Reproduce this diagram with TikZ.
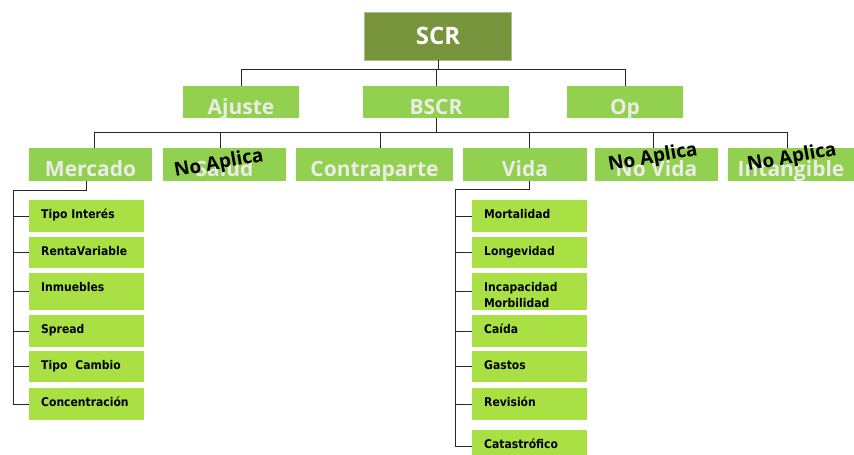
\documentclass[tikz,border=0pt]{standalone}
\usepackage{fontspec}
\newfontfamily\osans{Open Sans}
\newfontfamily\dvs[FakeStretch=0.9]{DejaVu Sans}
\definecolor{scrg}{HTML}{77933C}
\definecolor{lvlg}{HTML}{92D050}
\definecolor{chg}{HTML}{A9E043}
\definecolor{lvltxt}{HTML}{ECECE6}
\begin{document}
\begin{tikzpicture}[x=1pt,y=-1pt,
  topbox/.style={rectangle, fill=scrg, draw=scrg!60!white, line width=0.6pt, minimum width=147pt, minimum height=48pt, inner sep=0pt, text=white, font=\osans\bfseries\fontsize{24}{24}\selectfont, text height=16pt, text depth=0pt},
  lvl/.style={rectangle, fill=lvlg, minimum height=32pt, inner sep=0pt, text=lvltxt, font=\osans\bfseries\fontsize{21}{21}\selectfont, text height=24pt, text depth=0pt},
  leaf/.style={rectangle, fill=chg, anchor=north west, text width=91pt, inner xsep=12pt, inner ysep=0pt, minimum height=32pt, align=left, font=\dvs\bfseries\fontsize{12}{16}\selectfont, text height=8pt, text depth=3pt},
  leaftwo/.style={leaf, minimum height=37pt, text height=8pt, text depth=9pt},
  conn/.style={line width=0.9pt, draw=black!85},
  noap/.style={font=\osans\bfseries\fontsize{19}{19}\selectfont, text=black, rotate=10, inner sep=0pt}
]
\useasboundingbox (0,0) rectangle (854,455);
\clip (0,0) rectangle (854,455);

% top level
\node[topbox] (scr) at (438,36) {SCR};
% level 2
\node[lvl, minimum width=116pt] (ajuste) at (241,102) {Ajuste};
\node[lvl, minimum width=146pt] (bscr) at (436,102) {BSCR};
\node[lvl, minimum width=116pt] (op) at (625,102) {Op};
% level 3
\node[lvl, minimum width=123pt, minimum height=33pt] (mercado) at (90.5,164.5) {Mercado};
\node[lvl, minimum width=123pt, minimum height=33pt] (salud) at (224.5,164.5) {Salud};
\node[lvl, minimum width=157pt, minimum height=33pt] (contra) at (374.5,164.5) {Contraparte};
\node[lvl, minimum width=124pt, minimum height=33pt] (vida) at (525,164.5) {Vida};
\node[lvl, minimum width=123pt, minimum height=33pt] (novida) at (656.5,164.5) {No Vida};
\node[lvl, minimum width=126pt, minimum height=33pt] (intang) at (791,164.5) {Intangible};

% overlays
\node[noap] (na1) at (219,164) {No Aplica};
\node[noap] (na2) at (653,158) {No Aplica};
\node[noap] (na3) at (792,158) {No Aplica};

% Mercado leaves
\node[leaf] (m1) at (29,200) {Tipo Interés};
\node[leaf, minimum height=31pt] (m2) at (29,237) {RentaVariable};
\node[leaftwo] (m3) at (29,273) {Inmuebles\\\mbox{}};
\node[leaf] (m4) at (29,315) {Spread};
\node[leaf, minimum height=31pt] (m5) at (29,351) {Tipo\ \ Cambio};
\node[leaf] (m6) at (29,388) {Concentración};

% Vida leaves
\node[leaf] (v1) at (472,200) {Mortalidad};
\node[leaf, minimum height=31pt] (v2) at (472,237) {Longevidad};
\node[leaftwo] (v3) at (472,273) {Incapacidad\\Morbilidad};
\node[leaf] (v4) at (472,315) {Caída};
\node[leaf, minimum height=31pt] (v5) at (472,351) {Gastos};
\node[leaf] (v6) at (472,388) {Revisión};
\node[leaf] (v7) at (472,430) {Catastrófico};

% connectors level 1-2
\coordinate (bus1) at (438,69);
\draw[conn] (scr.south) -- (scr.south |- bus1);
\draw[conn] (ajuste.north) -- (ajuste.north |- bus1) -- (op.north |- bus1) -- (op.north);
\draw[conn] (bscr.north) -- (bscr.north |- bus1);

% connectors level 2-3
\coordinate (bus2) at (437,132);
\draw[conn] (bscr.south) -- (bscr.south |- bus2);
\draw[conn] ([xshift=3.5pt]mercado.north) -- ([xshift=3.5pt]mercado.north |- bus2) -- ([xshift=-4pt]intang.north |- bus2) -- ([xshift=-4pt]intang.north);
\draw[conn] ([xshift=-4.5pt]salud.north) -- ([xshift=-4.5pt]salud.north |- bus2);
\draw[conn] ([xshift=5.5pt]contra.north) -- ([xshift=5.5pt]contra.north |- bus2);
\draw[conn] ([xshift=4pt]vida.north) -- ([xshift=4pt]vida.north |- bus2);
\draw[conn] ([xshift=-3.5pt]novida.north) -- ([xshift=-3.5pt]novida.north |- bus2);

% Mercado tree
\coordinate (mtrunk) at (13,190);
\draw[conn] ([xshift=-4.5pt]mercado.south) |- (mtrunk) -- (mtrunk |- m6.west) -- (m6.west);
\foreach \n in {m1,m2,m3,m4,m5} \draw[conn] (mtrunk |- \n.west) -- (\n.west);

% Vida tree
\coordinate (vtrunk) at (455,189);
\draw[conn] ([xshift=4pt]vida.south) |- (vtrunk) -- (vtrunk |- v7.west) -- (v7.west);
\foreach \n in {v1,v2,v3,v4,v5,v6} \draw[conn] (vtrunk |- \n.west) -- (\n.west);
\end{tikzpicture}
\end{document}
